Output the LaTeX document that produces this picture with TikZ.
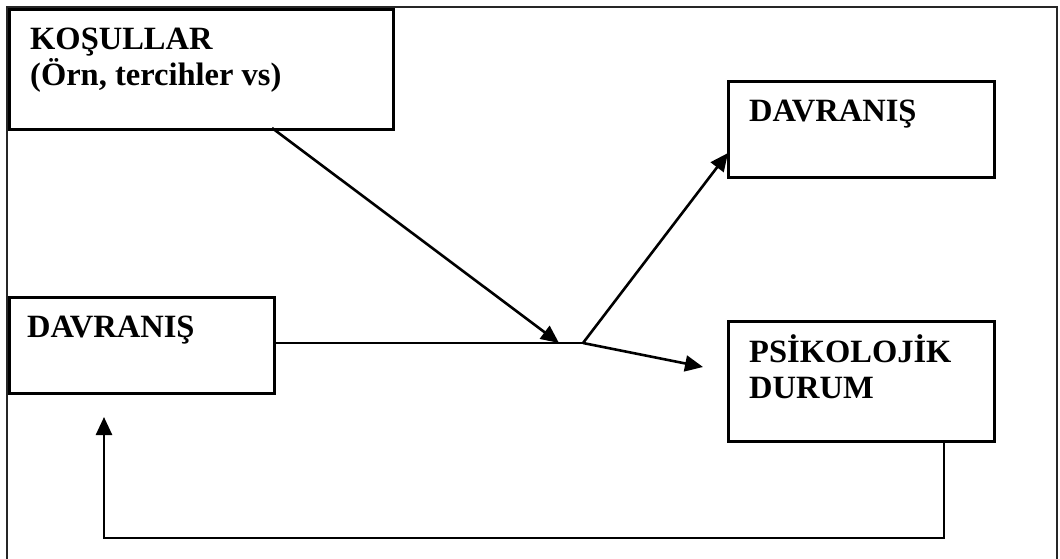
\documentclass[tikz,border=0pt]{standalone}
\usepackage{fontspec}
\setmainfont{Liberation Serif}
\usetikzlibrary{arrows.meta}
\begin{document}
\begin{tikzpicture}[x=1pt,y=-1pt,
  frame/.style={draw=black!85,line width=1.5pt},
  box/.style={draw,line width=2.6pt,rectangle,inner sep=0pt,anchor=north west},
  lbl/.style={anchor=base west,inner sep=0pt,align=left,
    font=\fontsize{32.5}{36}\selectfont\bfseries},
  conn/.style={line width=2.6pt},
  thinconn/.style={line width=1.9pt},
  arr/.style={conn,-{Triangle[length=18pt,width=16pt]}}]
\useasboundingbox (0,0) rectangle (1060,559);
% page frame (open at the bottom)
\draw[frame] (7,559) -- (7,7) -- (1057,7) -- (1057,559);

% boxes
\node[box,minimum width=384pt,minimum height=120pt] (kos) at (8,8) {};
% multi-line labels are anchored at the baseline of their last line
\node[lbl] (kost) at (30,86) {KOŞULLAR\\(Örn, tercihler vs)};

\node[box,minimum width=266pt,minimum height=96pt] (dav1) at (727,80) {};
\node[lbl] (dav1t) at (749,122) {DAVRANIŞ};

\node[box,minimum width=265pt,minimum height=96pt] (dav2) at (8,296) {};
\node[lbl] (dav2t) at (27,337) {DAVRANIŞ};

\node[box,minimum width=266pt,minimum height=120pt] (psi) at (727,320) {};
\node[lbl] (psit) at (749,398) {PSİKOLOJİK\\DURUM};

% connection points
\coordinate (kosout) at (272,128);
\coordinate (dav2out) at (273,343);
\coordinate (meet) at (559,343);
\coordinate (junc) at (583,343);
\coordinate (dav1in) at (728,153);
\coordinate (psiin) at (703,367);
\coordinate (fbtop) at (944,440);
\coordinate (fbr) at (944,538);
\coordinate (fbl) at (104,538);
\coordinate (fbtip) at (104,417);

% connectors
\draw[arr] (kosout) -- (meet);
\draw[thinconn] (dav2out) -- (junc);
\draw[arr] (junc) -- (dav1in);
\draw[arr] (junc) -- (psiin);
\draw[arr] (fbtop) -- (fbr) -- (fbl) -- (fbtip);
\end{tikzpicture}
\end{document}
